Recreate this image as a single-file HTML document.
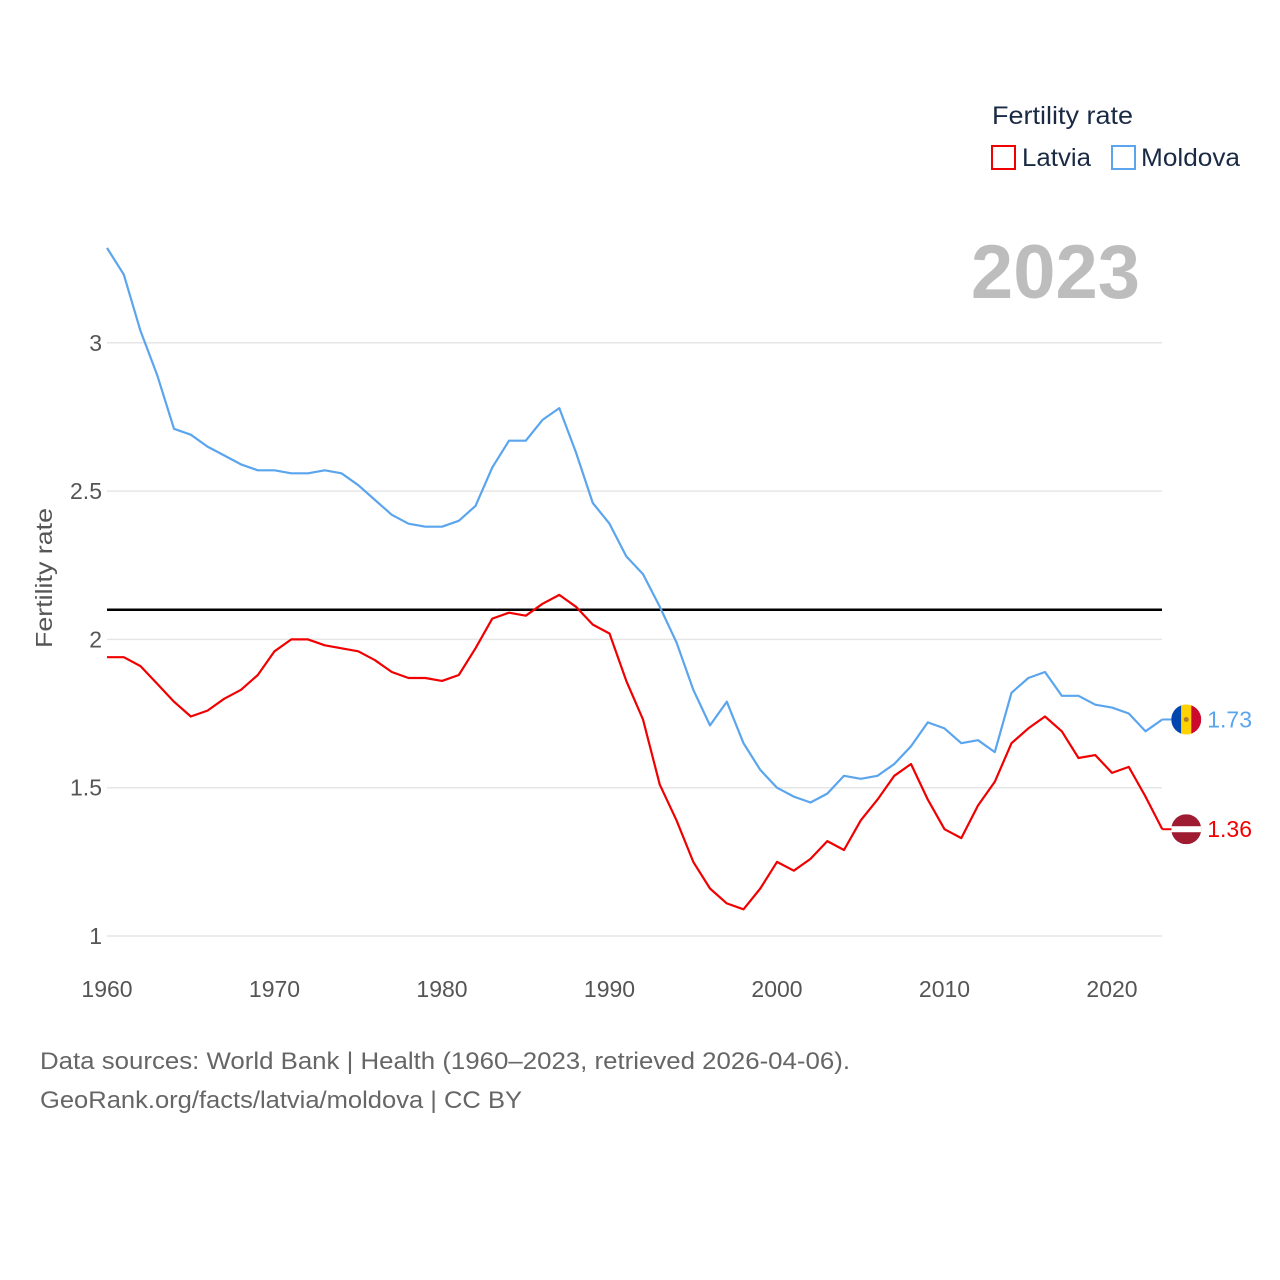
<!DOCTYPE html>
<html><head><meta charset="utf-8">
<style>
body{margin:0;background:#fff;}
svg{display:block;font-family:"Liberation Sans",sans-serif;}
</style></head>
<body>
<svg id="chart" width="1280" height="1280" viewBox="0 0 1280 1280">
  <g id="grid"></g>
  <g id="yticks"></g>
  <g id="xticks"></g>
  <text x="52" y="578" transform="rotate(-90 52 578)" text-anchor="middle" font-size="23" fill="#555" textLength="140" lengthAdjust="spacingAndGlyphs">Fertility rate</text>
  <text x="1140" y="298" text-anchor="end" font-size="76" font-weight="bold" fill="#bdbdbd">2023</text>
  <g>
    <text x="992" y="124" font-size="25" fill="#1a2a44" textLength="141" lengthAdjust="spacingAndGlyphs">Fertility rate</text>
    <g>
      <rect x="992" y="146" width="23" height="23" fill="none" stroke="#f00000" stroke-width="2"/>
      <text x="1022" y="166" font-size="25" fill="#1a2a44" textLength="69" lengthAdjust="spacingAndGlyphs">Latvia</text>
    </g>
    <g>
      <rect x="1112" y="146" width="23" height="23" fill="none" stroke="#5aa5ee" stroke-width="2"/>
      <text x="1141" y="166" font-size="25" fill="#1a2a44" textLength="99" lengthAdjust="spacingAndGlyphs">Moldova</text>
    </g>
  </g>
  <g id="series"></g>
  <text x="40" y="1069" font-size="24" fill="#666" textLength="810" lengthAdjust="spacingAndGlyphs">Data sources: World Bank | Health (1960–2023, retrieved 2026-04-06).</text>
  <text x="40" y="1108" font-size="24" fill="#666" textLength="482" lengthAdjust="spacingAndGlyphs">GeoRank.org/facts/latvia/moldova | CC BY</text>
</svg>
<script>
const years = [];
for (let y = 1960; y <= 2023; y++) years.push(y);
const moldova = [3.32,3.23,3.04,2.89,2.71,2.69,2.65,2.62,2.59,2.57,2.57,2.56,2.56,2.57,2.56,2.52,2.47,2.42,2.39,2.38,2.38,2.40,2.45,2.58,2.67,2.67,2.74,2.78,2.63,2.46,2.39,2.28,2.22,2.11,1.99,1.83,1.71,1.79,1.65,1.56,1.50,1.47,1.45,1.48,1.54,1.53,1.54,1.58,1.64,1.72,1.70,1.65,1.66,1.62,1.82,1.87,1.89,1.81,1.81,1.78,1.77,1.75,1.69,1.73];
const latvia = [1.94,1.94,1.91,1.85,1.79,1.74,1.76,1.80,1.83,1.88,1.96,2.00,2.00,1.98,1.97,1.96,1.93,1.89,1.87,1.87,1.86,1.88,1.97,2.07,2.09,2.08,2.12,2.15,2.11,2.05,2.02,1.86,1.73,1.51,1.39,1.25,1.16,1.11,1.09,1.16,1.25,1.22,1.26,1.32,1.29,1.39,1.46,1.54,1.58,1.46,1.36,1.33,1.44,1.52,1.65,1.70,1.74,1.69,1.60,1.61,1.55,1.57,1.47,1.36];
const yTicks = [1, 1.5, 2, 2.5, 3];
const xTicks = [1960, 1970, 1980, 1990, 2000, 2010, 2020];
const replacement = 2.1;

const NS = "http://www.w3.org/2000/svg";
const X = yr => 107 + (yr - 1960) * 16.75;
const Y = v => 936 - (v - 1) * 296.6;
function mk(tag, attrs, parent){const e=document.createElementNS(NS,tag);for(const k in attrs)e.setAttribute(k,attrs[k]);parent.appendChild(e);return e;}

const grid=document.getElementById('grid'), yt=document.getElementById('yticks'), xt=document.getElementById('xticks'), ser=document.getElementById('series');
yTicks.forEach(v=>{
  const l=mk('line',{x1:107,x2:1162,y1:Y(v),y2:Y(v),stroke:'#e6e6e6','stroke-width':1.5},grid);
  
  
  const t=mk('text',{x:102,y:Y(v)+8,'text-anchor':'end','font-size':23,fill:'#555'},yt);
  t.textContent=String(v);
  
  
});
xTicks.forEach(v=>{
  const t=mk('text',{x:X(v),y:997,'text-anchor':'middle','font-size':23,fill:'#555'},xt);
  t.textContent=String(v);
  
  
});
const rl=mk('line',{x1:107,x2:1162,y1:Y(replacement),y2:Y(replacement),stroke:'#000','stroke-width':2.5},ser);



function drawLine(vals,color,name){
  const d=vals.map((v,i)=>(i?'L':'M')+X(years[i]).toFixed(1)+','+Y(v).toFixed(1)).join(' ');
  const p=mk('path',{d:d,fill:'none',stroke:color,'stroke-width':2.2,'stroke-linejoin':'round'},ser);
  
  
  const last=vals[vals.length-1], lx=X(years[years.length-1]);
  mk('line',{x1:lx,x2:lx+12,y1:Y(last),y2:Y(last),stroke:color,'stroke-width':2},ser);
  return [lx+24,Y(last),last];
}
const [mx,my,mv]=drawLine(moldova,'#5aa5ee','moldova');
const [lx,ly,lv]=drawLine(latvia,'#f00000','latvia');

const fm=mk('g',{},ser);


const cm=mk('clipPath',{id:'cm'},fm);
mk('circle',{cx:mx,cy:my,r:15},cm);
const gm=mk('g',{'clip-path':'url(#cm)'},fm);
mk('rect',{x:mx-15,y:my-15,width:10,height:30,fill:'#0046ae'},gm);
mk('rect',{x:mx-5,y:my-15,width:10,height:30,fill:'#ffd200'},gm);
mk('rect',{x:mx+5,y:my-15,width:10,height:30,fill:'#cc092f'},gm);
mk('circle',{cx:mx,cy:my,r:2.5,fill:'#b07e30'},gm);
const tm=mk('text',{x:mx+21,y:my+8,'font-size':23,fill:'#5aa5ee'},ser);
tm.textContent=mv.toFixed(2);



const fl=mk('g',{},ser);


const cl=mk('clipPath',{id:'cl'},fl);
mk('circle',{cx:lx,cy:ly,r:15},cl);
const gl=mk('g',{'clip-path':'url(#cl)'},fl);
mk('rect',{x:lx-15,y:ly-15,width:30,height:30,fill:'#9e1b32'},gl);
mk('rect',{x:lx-15,y:ly-3,width:30,height:6,fill:'#fff'},gl);
const tl=mk('text',{x:lx+21,y:ly+8,'font-size':23,fill:'#f00000'},ser);
tl.textContent=lv.toFixed(2);


</script>
</body></html>
